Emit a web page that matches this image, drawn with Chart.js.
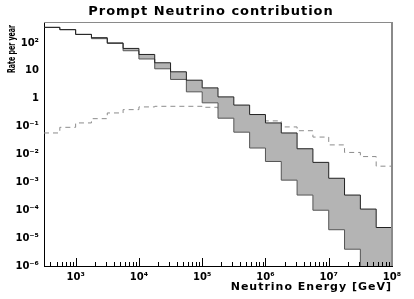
<!DOCTYPE html>
<html>
<head>
<meta charset="utf-8">
<script src="https://cdn.jsdelivr.net/npm/chart.js@4.4.0/dist/chart.umd.min.js"></script>
<style>
  body { margin: 0; background: #fff; }
</style>
</head>
<body>
<canvas id="grafico" width="414" height="299"></canvas>
<script>
// bordas dos bins (GeV), 1/4 de década
var binEdges = [316.2, 562.3, 1000, 1778, 3162, 5623, 10000, 17783, 31623, 56234, 100000, 177828, 316228, 562341, 1000000, 1778279, 3162278, 5623413, 10000000, 17782794, 31622777, 56234133, 100000000];

// taxa por ano - limites da banda e curva tracejada
var upperRate = [361, 299, 202, 154, 100, 63.4, 38.5, 19.4, 9.2, 4.6, 2.44, 1.16, 0.59, 0.27, 0.135, 0.059, 0.016, 0.0052, 0.0014, 3.5e-4, 1.1e-4, 2.4e-5];
var lowerRate = [361, 299, 202, 142, 96, 52.4, 26.5, 11.8, 4.9, 1.76, 0.71, 0.20, 0.063, 0.017, 0.0056, 0.0012, 3.5e-4, 1.0e-4, 2.0e-5, 4.0e-6, 1e-7, 1e-7];
var dashedRate = [0.059, 0.094, 0.135, 0.192, 0.308, 0.405, 0.507, 0.533, 0.533, 0.533, 0.491, 0.395, 0.279, 0.227, 0.160, 0.097, 0.071, 0.042, 0.022, 0.0118, 0.0084, 0.0038];

var xTickValues = [1e3, 1e4, 1e5, 1e6, 1e7, 1e8];
var xTickLabels = ['10³', '10⁴', '10⁵', '10⁶', '10⁷', '10⁸'];
var yTickValues = [1e-6, 1e-5, 1e-4, 1e-3, 1e-2, 1e-1, 1, 10, 100];
var yTickLabels = ['10⁻⁶', '10⁻⁵', '10⁻⁴', '10⁻³', '10⁻²', '10⁻¹', '1', '10', '10²'];

// transforma valores de bin em pontos para linha em degrau
function histograma(valores) {
    var pontos = valores.map(function (v, i) {
        return { x: binEdges[i], y: v };
    });
    pontos.push({ x: binEdges[binEdges.length - 1], y: valores[valores.length - 1] });
    return pontos;
}

var fonte = "'DejaVu Sans', sans-serif";

// textos, moldura e ticks menores no estilo ROOT
var estiloRoot = {
    id: 'estiloRoot',
    afterDraw: function (chart) {
        var ctx = chart.ctx;
        var area = chart.chartArea;
        var xs = chart.scales.x;
        ctx.save();

        // ticks do eixo x
        ctx.strokeStyle = '#000';
        ctx.lineWidth = 1;
        ctx.beginPath();
        for (var p = 2; p <= 8; p++) {
            for (var k = 1; k <= 9; k++) {
                var v = k * Math.pow(10, p);
                if (v < xs.min || v > xs.max * 1.0001) continue;
                var px = Math.round(xs.getPixelForValue(v)) + 0.5;
                var h = (k === 1) ? 8 : 4;
                ctx.moveTo(px, area.bottom);
                ctx.lineTo(px, area.bottom - h);
            }
        }
        ctx.stroke();

        // moldura superior e direita
        ctx.strokeStyle = '#8a8a8a';
        ctx.beginPath();
        ctx.moveTo(area.left, area.top + 0.5);
        ctx.lineTo(area.right, area.top + 0.5);
        ctx.stroke();
        ctx.lineWidth = 2;
        ctx.beginPath();
        ctx.moveTo(area.right, area.top);
        ctx.lineTo(area.right, area.bottom);
        ctx.stroke();

        ctx.fillStyle = '#000';
        ctx.letterSpacing = '1px';
        ctx.font = 'bold 13px ' + fonte;
        ctx.textAlign = 'center';
        ctx.textBaseline = 'alphabetic';
        ctx.fillText('Prompt Neutrino contribution', 211, 15);

        ctx.font = 'bold 11px ' + fonte;
        ctx.textAlign = 'right';
        ctx.fillText('Neutrino Energy [GeV]', 392, 290);

        ctx.letterSpacing = '0px';
        ctx.translate(12, 49);
        ctx.rotate(-Math.PI / 2);
        ctx.font = 'bold 10px ' + fonte;
        ctx.textAlign = 'center';
        ctx.textBaseline = 'middle';
        ctx.fillText('Rate per year', 0, 0, 48);
        ctx.restore();
    }
};

var ctxGrafico = document.getElementById('grafico').getContext('2d');
var grafico = new Chart(ctxGrafico, {
    type: 'line',
    data: {
        datasets: [{
            label: 'upper',
            data: histograma(upperRate),
            stepped: 'before',
            borderColor: '#222',
            borderWidth: 1,
            pointRadius: 0,
            fill: false
        }, {
            label: 'lower',
            data: histograma(lowerRate),
            stepped: 'before',
            borderColor: '#555',
            borderWidth: 1,
            pointRadius: 0,
            backgroundColor: '#b4b4b4',
            fill: '-1'
        }, {
            label: 'dashed',
            data: histograma(dashedRate),
            stepped: 'before',
            borderColor: '#8c8c8c',
            borderWidth: 1,
            borderDash: [5, 4],
            pointRadius: 0,
            fill: false
        }]
    },
    options: {
        responsive: false,
        animation: false,
        devicePixelRatio: 1,
        layout: { padding: { top: 22, right: 22, left: 0, bottom: 0 } },
        plugins: {
            legend: { display: false },
            tooltip: { enabled: false }
        },
        scales: {
            x: {
                type: 'logarithmic',
                min: binEdges[0],
                max: binEdges[binEdges.length - 1],
                grid: { display: false, drawTicks: false, tickLength: 0 },
                border: { display: true, color: '#000', width: 1 },
                afterBuildTicks: function (scale) {
                    scale.ticks = xTickValues.map(function (v) { return { value: v }; });
                },
                afterFit: function (scale) {
                    scale.height = 33;
                    scale.paddingLeft = 0;
                    scale.paddingRight = 0;
                },
                ticks: {
                    autoSkip: false,
                    maxRotation: 0,
                    padding: 5,
                    color: '#000',
                    font: { family: fonte, size: 10, weight: 'bold' },
                    callback: function (value, index) { return xTickLabels[index]; }
                }
            },
            y: {
                type: 'logarithmic',
                min: 1e-6,
                max: 562,
                grid: { display: false, drawTicks: false, tickLength: 0 },
                border: { display: true, color: '#000', width: 1 },
                afterBuildTicks: function (scale) {
                    scale.ticks = yTickValues.map(function (v) { return { value: v }; });
                },
                afterFit: function (scale) {
                    scale.width = 44;
                    scale.paddingTop = 0;
                    scale.paddingBottom = 0;
                },
                ticks: {
                    autoSkip: false,
                    padding: 5,
                    color: '#000',
                    font: { family: fonte, size: 10, weight: 'bold' },
                    callback: function (value, index) { return yTickLabels[index]; }
                }
            }
        }
    },
    plugins: [estiloRoot]
});
</script>
</body>
</html>
